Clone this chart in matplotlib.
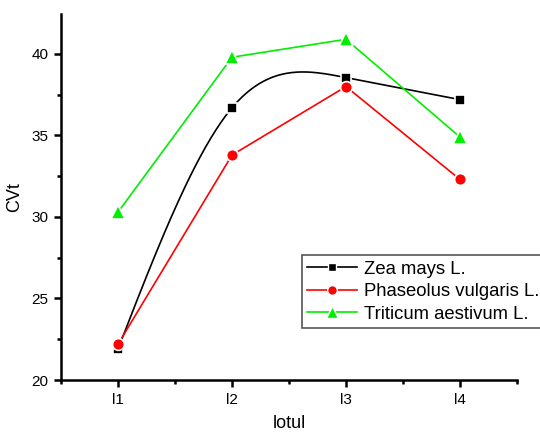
import numpy as np
import matplotlib.pyplot as plt
from matplotlib.ticker import MultipleLocator

plt.rcParams['font.family'] = ['Liberation Sans', 'DejaVu Sans']

lots = ['l1', 'l2', 'l3', 'l4']
zea = [21.9, 36.7, 38.55, 37.2]
phaseolus = [22.2, 33.8, 38.0, 32.3]
triticum = [30.3, 39.8, 40.9, 34.9]


def natural_spline(x, y, n=200):
    # natural cubic spline through the points, solved directly
    x = np.asarray(x, float)
    y = np.asarray(y, float)
    k = len(x)
    h = np.diff(x)
    A = np.zeros((k, k))
    b = np.zeros(k)
    A[0, 0] = A[-1, -1] = 1
    for i in range(1, k - 1):
        A[i, i - 1] = h[i - 1]
        A[i, i] = 2 * (h[i - 1] + h[i])
        A[i, i + 1] = h[i]
        b[i] = 6 * ((y[i + 1] - y[i]) / h[i] - (y[i] - y[i - 1]) / h[i - 1])
    M = np.linalg.solve(A, b)
    xs = np.linspace(x[0], x[-1], n)
    idx = np.clip(np.searchsorted(x, xs) - 1, 0, k - 2)
    x0, x1 = x[idx], x[idx + 1]
    hh = x1 - x0
    ys = (M[idx] * (x1 - xs) ** 3 / (6 * hh) + M[idx + 1] * (xs - x0) ** 3 / (6 * hh)
          + (y[idx] / hh - M[idx] * hh / 6) * (x1 - xs)
          + (y[idx + 1] / hh - M[idx + 1] * hh / 6) * (xs - x0))
    return xs, ys


xpos = np.arange(1, len(lots) + 1)

fig = plt.figure(figsize=(5.4, 4.34), dpi=100)
ax = fig.add_axes([0.113, 0.1244, 0.8444, 0.8433])

# white marker edges leave a small gap between line and symbol
gap = dict(markeredgecolor='white', markeredgewidth=1.2)

xs, ys = natural_spline(xpos, zea)
ax.plot(xs, ys, color='black', lw=1.2, zorder=2)
ax.plot(xpos, zea, ls='none', marker='s', ms=7.5, color='black', zorder=3, **gap)
ax.plot(xpos, phaseolus, color='red', lw=1.2, marker='o', ms=8.5, zorder=3, **gap)
ax.plot(xpos, triticum, color='#00ee00', lw=1.2, marker='^', ms=9.5, zorder=3, **gap)

# legend proxies
h1, = ax.plot([], [], color='black', lw=1.2, marker='s', ms=6, markeredgecolor='white', markeredgewidth=1)
h2, = ax.plot([], [], color='red', lw=1.2, marker='o', ms=7, markeredgecolor='white', markeredgewidth=1)
h3, = ax.plot([], [], color='#00ee00', lw=1.2, marker='^', ms=8, markeredgecolor='white', markeredgewidth=1)
leg = fig.legend([h1, h2, h3], ['Zea mays L.', 'Phaseolus vulgaris L.', 'Triticum aestivum L.'],
                 loc='upper left', bbox_to_anchor=(0.559, 0.4124), fontsize=13.3,
                 fancybox=False, framealpha=1, edgecolor='#555555', handlelength=2.7,
                 handletextpad=0.35, borderpad=0.3, labelspacing=0.3, borderaxespad=0)
leg.get_frame().set_linewidth(1.2)

ax.set_xlim(0.5, 4.5)
ax.set_ylim(20, 42.45)
ax.set_xticks(xpos)
ax.set_xticklabels(lots)
ax.set_xticks(np.arange(0.5, 4.6, 1), minor=True)
ax.yaxis.set_major_locator(MultipleLocator(5))
ax.yaxis.set_minor_locator(MultipleLocator(2.5))

for s in ['top', 'right']:
    ax.spines[s].set_visible(False)
for s in ['left', 'bottom']:
    ax.spines[s].set_linewidth(1.8)
ax.tick_params(which='major', direction='out', length=5, width=1.8, labelsize=11, pad=4)
ax.tick_params(which='minor', direction='out', length=3, width=1.8)

ax.set_xlabel('lotul', fontsize=13, labelpad=6)
ax.set_ylabel('CVt', fontsize=13, labelpad=6)

plt.savefig('out.png', dpi=100)
